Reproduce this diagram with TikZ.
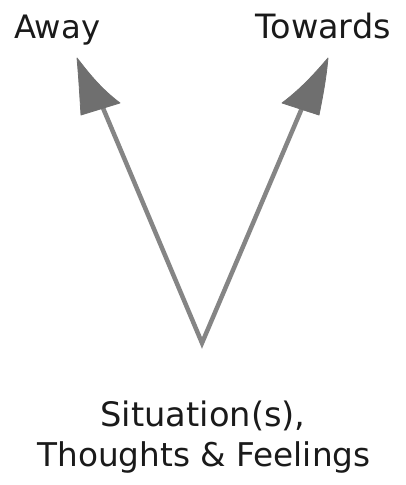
\documentclass[tikz,border=0pt]{standalone}
\usepackage{fontspec}
\usepackage{graphicx}
\setmainfont{DejaVu Sans}
\definecolor{shaft}{HTML}{858585}
\definecolor{headc}{HTML}{6F6F6F}
\definecolor{ink}{HTML}{1A1A1A}
\begin{document}
\begin{tikzpicture}[x=1pt,y=-1pt,
  shaftline/.style={draw=shaft,line width=4.5pt,line cap=round,line join=miter},
  headtri/.style={fill=headc,draw=headc,line width=0.8pt,line join=round},
  lbl/.style={inner sep=0pt,text=ink,font=\fontsize{24}{28}\selectfont}]
\useasboundingbox (0,0) rectangle (405,485);
\coordinate (v) at (202,343);
\coordinate (la) at (103,108);
\coordinate (ra) at (302,108);
\draw[shaftline] (la) -- (v) -- (ra);
\fill[headtri] (77,58) .. controls (79,80) and (80,100) .. (81,115) -- (120,103) .. controls (100,88) and (88,72) .. cycle;
\fill[headtri] (328,58) .. controls (326,80) and (322,100) .. (319,115) -- (282,103) .. controls (302,88) and (316,72) .. cycle;
\node[lbl,anchor=base west] (away) at (14,38) {\resizebox{86pt}{!}{Away}};
\node[lbl,anchor=base east] (towards) at (391,38) {\resizebox{135pt}{!}{Towards}};
\node[lbl,anchor=base] (sit) at (203,426) {\resizebox{205pt}{!}{Situation(s),}};
\node[lbl,anchor=base] (tf) at (204,466) {\resizebox{333pt}{!}{Thoughts \& Feelings}};
\end{tikzpicture}
\end{document}
